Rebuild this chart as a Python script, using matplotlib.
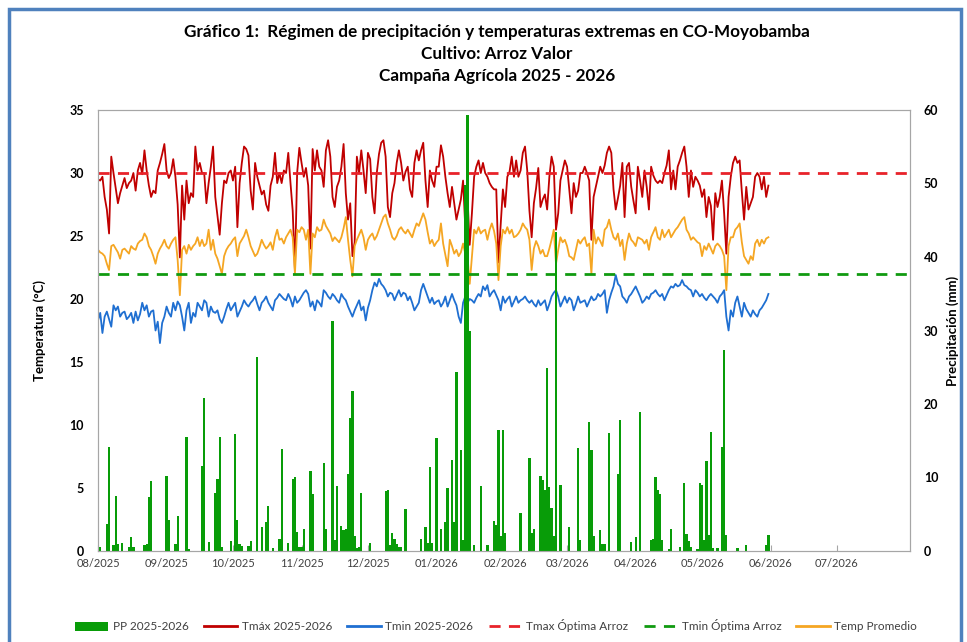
import pandas as pd
import matplotlib
matplotlib.use('Agg')
import matplotlib.pyplot as plt
from matplotlib.patches import Rectangle, Patch
from matplotlib.lines import Line2D

plt.rcParams['font.family'] = ['Lato', 'DejaVu Sans']

# daily series, 01/08/2025 - 31/05/2026
start = '2025-08-01'

tmax_ago = [29.5, 29.4, 29.7, 28.1, 27.1, 25.2, 31.3, 30.0, 28.8, 27.6, 28.4, 29.0, 29.6, 28.8, 29.2, 29.4,
            30.0, 28.6, 30.2, 30.8, 29.9, 31.8, 30.2, 29.0, 28.1, 28.6, 28.4, 30.2, 30.8, 31.5, 32.3]
tmax_sep = [30.2, 29.6, 30.0, 31.1, 29.7, 27.5, 23.3, 29.0, 26.3, 29.4, 27.6, 28.4, 28.1, 32.1, 30.2,
            30.8, 30.0, 30.0, 27.6, 29.2, 30.5, 32.1, 28.1, 26.6, 25.1, 27.6, 29.4, 29.2, 30.0, 30.2]
tmax_oct = [29.4, 30.5, 25.7, 29.2, 30.8, 32.1, 31.9, 31.4, 28.6, 27.1, 30.8, 29.7, 29.0, 28.3, 28.6, 27.5,
            27.0, 29.0, 29.7, 31.6, 29.2, 30.0, 29.2, 30.2, 30.0, 31.6, 29.2, 27.0, 22.3, 30.0, 32.0]
tmax_nov = [30.8, 29.7, 30.4, 29.0, 24.0, 31.9, 30.2, 31.8, 30.5, 30.2, 28.9, 31.8, 32.6, 31.3, 28.1,
            27.3, 28.9, 29.4, 30.5, 32.3, 28.4, 26.3, 27.6, 23.4, 24.5, 31.3, 30.0, 31.8, 30.2, 28.4]
tmax_dic = [31.6, 31.1, 28.1, 26.8, 30.0, 31.5, 32.4, 32.6, 31.3, 27.3, 26.5, 28.4, 29.2, 30.8, 31.8, 30.8,
            29.4, 30.1, 30.5, 28.7, 28.1, 30.8, 31.8, 31.0, 31.8, 32.4, 29.4, 27.3, 30.2, 29.4, 28.9]
tmax_ene = [30.5, 30.5, 32.2, 31.3, 29.7, 28.4, 27.3, 28.9, 27.6, 26.3, 27.1, 27.9, 29.4, 25.7, 28.1, 24.3,
            26.8, 29.7, 30.5, 31.0, 30.0, 30.8, 30.0, 29.7, 29.2, 28.9, 28.7, 28.7, 22.9, 25.9, 28.7]
tmax_feb = [27.3, 29.7, 30.1, 31.3, 29.7, 31.0, 29.7, 30.2, 31.6, 32.1, 30.2, 27.0, 24.9, 27.6,
            28.8, 30.4, 27.3, 27.9, 28.3, 27.1, 29.7, 31.3, 30.5, 25.5, 26.8, 29.4, 30.2, 31.0]
tmax_mar = [30.5, 28.7, 26.8, 29.2, 28.1, 28.6, 30.0, 30.0, 30.5, 30.0, 29.4, 24.7, 28.1, 28.9, 29.7, 30.5,
            30.0, 30.6, 31.6, 32.1, 31.6, 28.7, 27.1, 28.0, 29.0, 30.8, 26.5, 30.5, 30.8, 28.9, 27.8]
tmax_abr = [26.8, 30.5, 29.4, 28.1, 30.2, 28.9, 27.1, 30.5, 29.8, 29.4, 29.2, 29.4, 29.2, 30.0, 30.6,
            31.8, 28.7, 30.2, 28.7, 30.5, 31.0, 31.6, 32.1, 30.5, 28.1, 30.2, 28.9, 29.7, 29.4, 29.0]
tmax_may = [28.1, 28.7, 26.5, 28.1, 27.4, 24.7, 28.4, 27.3, 28.1, 29.4, 26.8, 23.6, 28.1, 29.7, 30.8, 31.3,
            30.8, 31.0, 28.5, 26.3, 28.9, 27.1, 27.6, 28.1, 29.7, 30.0, 29.7, 28.7, 29.7, 28.1, 29.0]

tmin_ago = [18.3, 18.9, 17.3, 18.6, 19.0, 18.4, 17.8, 19.5, 19.1, 19.4, 18.6, 18.9, 19.0, 18.4, 18.6, 18.9,
            18.1, 19.0, 18.3, 18.8, 19.7, 19.1, 19.5, 18.6, 19.0, 19.1, 17.5, 18.2, 16.5, 18.1, 18.6]
tmin_sep = [19.4, 18.9, 18.6, 19.7, 19.1, 19.8, 19.5, 18.6, 17.5, 19.1, 19.7, 18.1, 18.9, 18.6, 19.7,
            19.4, 19.1, 19.9, 19.7, 18.6, 19.4, 19.0, 18.9, 19.1, 18.4, 18.1, 18.6, 19.2, 19.7, 19.1]
tmin_oct = [19.4, 19.7, 18.6, 19.0, 19.4, 19.9, 19.6, 19.4, 19.7, 19.9, 20.2, 19.6, 19.1, 19.7, 19.9, 20.2,
            19.7, 19.4, 19.1, 19.9, 20.1, 20.4, 20.2, 20.0, 19.9, 20.4, 20.0, 19.4, 20.2, 19.7, 19.9]
tmin_nov = [20.2, 20.5, 20.7, 20.4, 19.4, 19.8, 19.1, 19.9, 19.7, 19.4, 20.7, 20.5, 20.2, 20.0, 20.4,
            20.2, 19.9, 19.7, 20.4, 20.1, 19.9, 19.4, 19.0, 18.6, 19.1, 19.5, 19.9, 19.1, 19.4, 18.3]
tmin_dic = [19.3, 19.9, 20.7, 21.3, 21.0, 21.6, 21.2, 21.0, 20.7, 20.2, 20.5, 20.4, 19.9, 20.3, 20.7, 20.2,
            20.5, 20.4, 19.9, 20.2, 19.7, 19.1, 19.4, 19.7, 20.7, 21.2, 20.7, 20.2, 19.7, 20.1, 19.6]
tmin_ene = [19.8, 19.9, 19.4, 19.7, 20.2, 19.4, 19.9, 20.4, 19.9, 19.5, 18.6, 18.1, 19.7, 20.2, 19.7, 20.0,
            19.9, 19.7, 20.1, 20.4, 20.2, 21.0, 20.7, 21.1, 20.2, 20.5, 20.7, 20.3, 19.9, 19.1, 20.2]
tmin_feb = [19.7, 20.0, 20.2, 19.4, 19.8, 20.2, 19.7, 19.9, 20.0, 20.2, 19.9, 19.7, 19.9, 19.6,
            19.4, 19.9, 19.5, 19.7, 19.9, 19.1, 19.6, 20.2, 20.5, 20.7, 20.2, 19.4, 19.8, 20.2]
tmin_mar = [19.7, 20.1, 19.9, 19.1, 19.6, 20.2, 19.7, 19.8, 19.9, 19.4, 19.8, 20.2, 19.9, 20.0, 20.4, 20.2,
            20.4, 20.7, 18.9, 19.9, 20.5, 21.0, 21.9, 21.2, 21.0, 20.2, 20.0, 19.7, 20.2, 20.4, 20.7]
tmin_abr = [21.0, 20.6, 20.2, 19.7, 19.9, 20.2, 20.0, 20.4, 20.5, 20.7, 20.4, 20.2, 20.4, 19.9, 20.3,
            20.7, 21.0, 20.9, 21.2, 21.0, 21.1, 21.5, 21.1, 21.0, 20.8, 20.7, 20.2, 20.7, 20.5, 20.2]
tmin_may = [20.4, 20.1, 19.9, 20.2, 20.4, 20.2, 20.0, 19.7, 20.2, 20.4, 20.7, 18.6, 17.5, 19.1, 18.6, 19.7,
            20.2, 19.4, 18.6, 19.7, 19.2, 18.9, 18.6, 19.1, 18.8, 18.6, 19.1, 19.3, 19.6, 19.9, 20.4]

tmed_ago = [23.9, 23.7, 23.6, 23.4, 22.8, 22.3, 24.2, 24.3, 24.0, 23.7, 23.2, 23.9, 24.0, 23.8, 23.6, 24.2,
            24.0, 23.9, 24.4, 24.6, 24.7, 25.2, 24.9, 24.2, 23.9, 23.4, 22.8, 23.6, 24.0, 24.3, 24.7]
tmed_sep = [24.2, 24.0, 24.4, 24.7, 24.9, 23.1, 20.3, 23.9, 24.2, 23.6, 24.3, 23.9, 24.2, 24.4, 24.9,
            24.2, 24.7, 24.2, 24.4, 25.5, 23.9, 24.7, 23.6, 23.2, 22.6, 22.0, 23.4, 23.9, 24.2, 24.4]
tmed_oct = [24.7, 24.9, 23.4, 24.4, 24.7, 25.0, 25.5, 24.9, 24.2, 23.8, 23.4, 23.6, 24.1, 24.7, 24.3, 24.0,
            24.2, 24.5, 23.9, 24.9, 25.5, 24.7, 24.8, 24.4, 24.9, 25.2, 25.5, 24.9, 22.0, 25.5, 25.3]
tmed_nov = [25.7, 25.5, 24.7, 25.5, 22.0, 25.2, 24.9, 25.7, 25.4, 25.5, 26.3, 25.8, 25.5, 25.2, 24.6,
            24.9, 24.7, 24.5, 24.9, 25.6, 26.5, 24.7, 23.1, 21.8, 24.2, 24.7, 25.1, 25.5, 24.9, 23.9]
tmed_dic = [24.7, 25.0, 25.2, 24.7, 25.0, 25.5, 26.0, 26.5, 26.7, 26.0, 25.5, 24.9, 24.7, 25.0, 25.5, 25.7,
            25.4, 25.2, 25.5, 25.2, 24.9, 25.5, 26.0, 25.8, 26.3, 26.8, 26.3, 25.3, 24.4, 24.7, 24.2]
tmed_ene = [24.5, 24.7, 26.0, 24.4, 23.5, 22.6, 24.7, 24.2, 23.6, 23.9, 23.4, 23.7, 24.4, 23.6, 23.4, 21.2,
            23.4, 25.5, 25.2, 25.7, 25.2, 25.4, 25.5, 24.7, 25.5, 26.0, 25.4, 24.4, 21.5, 24.2, 25.5]
tmed_feb = [25.2, 25.7, 25.2, 25.5, 24.9, 25.0, 25.2, 25.5, 26.0, 25.7, 25.5, 24.7, 22.3, 24.0,
            24.6, 24.2, 23.6, 23.9, 23.4, 23.4, 24.0, 24.7, 25.5, 22.8, 23.9, 24.9, 24.5, 24.7]
tmed_mar = [24.2, 23.4, 23.3, 23.1, 23.9, 24.7, 24.4, 24.7, 24.9, 24.2, 24.4, 22.0, 25.5, 24.4, 24.9, 24.6,
            24.2, 25.5, 25.7, 26.3, 25.5, 24.9, 24.7, 25.2, 24.2, 24.7, 23.1, 24.4, 25.2, 24.7, 24.5]
tmed_abr = [24.2, 24.9, 24.8, 24.7, 24.4, 24.7, 23.9, 24.9, 25.3, 25.7, 24.9, 24.7, 25.5, 24.9, 25.2,
            25.5, 24.9, 25.2, 25.5, 25.7, 26.0, 26.3, 26.5, 25.5, 25.2, 24.7, 24.9, 24.7, 24.5, 24.4]
tmed_may = [23.4, 24.2, 23.9, 24.4, 24.0, 23.6, 24.2, 24.4, 24.2, 23.9, 23.4, 20.7, 24.2, 24.9, 24.9, 25.5,
            25.7, 26.0, 24.5, 23.4, 23.1, 22.8, 23.4, 23.1, 24.4, 24.7, 24.2, 24.7, 24.4, 24.8, 24.9]

# rainy days only (day number from 01/08/2025, mm)
pp_day = [0, 1, 4, 5, 7, 8, 9, 11, 14, 15, 16, 21, 22, 23, 24,
          31, 32, 35, 36, 40, 41, 47, 48, 50, 53, 54, 55, 56, 60,
          62, 63, 64, 65, 68, 69, 72, 74, 76, 77, 79, 82, 83, 86, 88, 89, 90, 91,
          92, 93, 96, 97, 102, 103, 106, 107, 108, 110, 111, 112, 113, 114, 115, 116, 117, 118, 119,
          123, 130, 131, 132, 133, 134, 135, 136, 137, 139,
          146, 148, 149, 150, 151, 153, 155, 157, 158, 160, 161, 162, 164, 165, 166, 167, 168, 170,
          173, 176, 179, 180, 181, 182, 183, 184, 191, 195, 196, 197, 200, 201, 202, 203, 204, 205,
          206, 207, 209, 213, 217, 218, 222, 223, 224, 227, 228, 229, 231, 235, 236, 241, 243, 245,
          250, 251, 252, 253, 254, 255, 258, 259, 263, 265, 266, 267, 268, 271, 272, 273, 274, 275,
          276, 277, 278, 280, 282, 283, 284, 289, 293, 302, 303]
pp_mm = [2.7, 0.5, 3.7, 14.1, 0.8, 7.5, 1.0, 1.1, 0.5, 1.9, 0.5, 0.8, 1.0, 7.3, 9.5,
         10.2, 4.2, 1.0, 4.7, 15.5, 0.3, 11.6, 20.8, 1.2, 7.9, 9.8, 15.5, 0.6, 1.4,
         15.9, 4.2, 1.0, 0.7, 0.7, 1.4, 26.4, 3.2, 4.0, 6.1, 0.4, 1.6, 13.9, 1.1, 9.8, 10.1, 2.6, 0.6,
         0.5, 3.0, 10.9, 7.8, 12.0, 3.0, 31.3, 1.5, 8.8, 3.4, 2.9, 3.0, 10.5, 18.1, 21.8, 2.0, 0.4, 0.5, 7.9,
         1.1, 8.2, 8.3, 0.8, 2.4, 1.6, 1.0, 0.5, 0.5, 5.7,
         1.6, 3.2, 1.1, 11.4, 1.1, 15.4, 3.0, 4.0, 8.6, 12.4, 4.0, 24.4, 13.7, 1.5, 49.8, 59.3, 30.0, 0.8,
         8.8, 0.8, 4.1, 3.5, 16.5, 2.0, 16.5, 2.5, 5.2, 12.7, 2.5, 3.0, 10.2, 9.6, 8.3, 24.9, 8.7, 5.9,
         2.0, 43.4, 9.0, 3.3, 14.0, 1.5, 17.6, 13.7, 2.0, 2.8, 1.0, 1.0, 16.0, 10.5, 17.8, 1.2, 1.9, 18.9,
         1.5, 1.7, 10.1, 8.3, 7.8, 1.5, 0.3, 3.0, 0.5, 9.2, 2.3, 1.4, 0.5, 0.3, 9.3, 9.0, 1.5, 12.3,
         2.2, 16.2, 0.4, 0.4, 14.1, 27.3, 2.2, 0.4, 0.8, 0.8, 2.2]

tmax_optima = 30
tmin_optima = 22

tmax = tmax_ago + tmax_sep + tmax_oct + tmax_nov + tmax_dic + tmax_ene + tmax_feb + tmax_mar + tmax_abr + tmax_may
tmin = tmin_ago + tmin_sep + tmin_oct + tmin_nov + tmin_dic + tmin_ene + tmin_feb + tmin_mar + tmin_abr + tmin_may
tmed = tmed_ago + tmed_sep + tmed_oct + tmed_nov + tmed_dic + tmed_ene + tmed_feb + tmed_mar + tmed_abr + tmed_may
fechas = pd.date_range(start, periods=len(tmax), freq='D')
pp_fechas = pd.Timestamp(start) + pd.to_timedelta(pp_day, unit='D')
meses = pd.date_range('2025-08-01', '2026-07-01', freq='MS')

fig = plt.figure(figsize=(9.67, 6.42), dpi=100)
ax = fig.add_axes([98 / 967, 1 - 551 / 642, 812 / 967, 441 / 642])
ax2 = ax.twinx()

c_max, c_min, c_med, c_pp = '#c00000', '#1f6fd1', '#f5a623', '#089c08'

ax.plot(fechas, tmax, color=c_max, lw=1.3)
ax.plot(fechas, tmin, color=c_min, lw=1.3)
ax.plot(fechas, tmed, color=c_med, lw=1.3)
ax.axhline(tmax_optima, color='#e8232a', lw=2, ls=(0, (4, 3)))
ax.axhline(tmin_optima, color='#109a10', lw=2, ls=(0, (4, 3)))

ax2.bar(pp_fechas, pp_mm, width=1.0, color=c_pp, linewidth=0)

ax.set_xlim(pd.Timestamp('2025-08-01'), pd.Timestamp('2026-08-03'))
ax.set_ylim(0, 35)
ax2.set_ylim(0, 60)
ax.set_yticks(range(0, 36, 5))
ax2.set_yticks(range(0, 61, 10))
ax.set_xticks(meses)
ax.set_xticklabels([m.strftime('%m/%Y') for m in meses])

for a in (ax, ax2):
    for s in a.spines.values():
        s.set_color('#a6a6a6')
    a.tick_params(axis='y', length=0, labelsize=9, pad=10, colors='#000000')
    a.tick_params(axis='x', length=4, direction='in', colors='#a6a6a6', labelcolor='#404040',
                  labelsize=8, pad=5)
    for lab in a.get_yticklabels():
        lab.set_fontweight('bold')

ax.set_ylabel('Temperatura (°C)', fontsize=9.5, fontweight='bold')
ax2.set_ylabel('Precipitación (mm)', fontsize=9.5, fontweight='bold')
ax.yaxis.set_label_coords((46 - 98) / 812, 0.5)
ax2.yaxis.set_label_coords((946 - 98) / 812, 0.5)

titulo = ['Gráfico 1:  Régimen de precipitación y temperaturas extremas en CO-Moyobamba',
          'Cultivo: Arroz Valor', 'Campaña Agrícola 2025 - 2026']
for i, t in enumerate(titulo):
    fig.text(0.514, 1 - (32 + 22 * i) / 642, t, ha='center', va='center', fontsize=12.3, fontweight='bold')

handles = [
    Patch(facecolor=c_pp, label='PP 2025-2026'),
    Line2D([], [], color=c_max, lw=2, label='Tmáx 2025-2026'),
    Line2D([], [], color=c_min, lw=2, label='Tmin 2025-2026'),
    Line2D([], [], color='#e8232a', lw=2, ls=(0, (4, 3)), label='Tmax Óptima Arroz'),
    Line2D([], [], color='#109a10', lw=2, ls=(0, (4, 3)), label='Tmin Óptima Arroz'),
    Line2D([], [], color=c_med, lw=2, label='Temp Promedio'),
]
fig.legend(handles=handles, loc='center', bbox_to_anchor=(0.513, 1 - 626 / 642), ncol=6, frameon=False,
           fontsize=8.5, handlelength=2.8, handleheight=0.8, columnspacing=1.3, handletextpad=0.4,
           labelcolor='#404040')

fig.add_artist(Rectangle((9 / 967, -0.05), 952 / 967, 1.05 - 9 / 642, transform=fig.transFigure,
                         fill=False, edgecolor='#4f81bd', lw=2.5))

fig.savefig('out.png', dpi=100)
